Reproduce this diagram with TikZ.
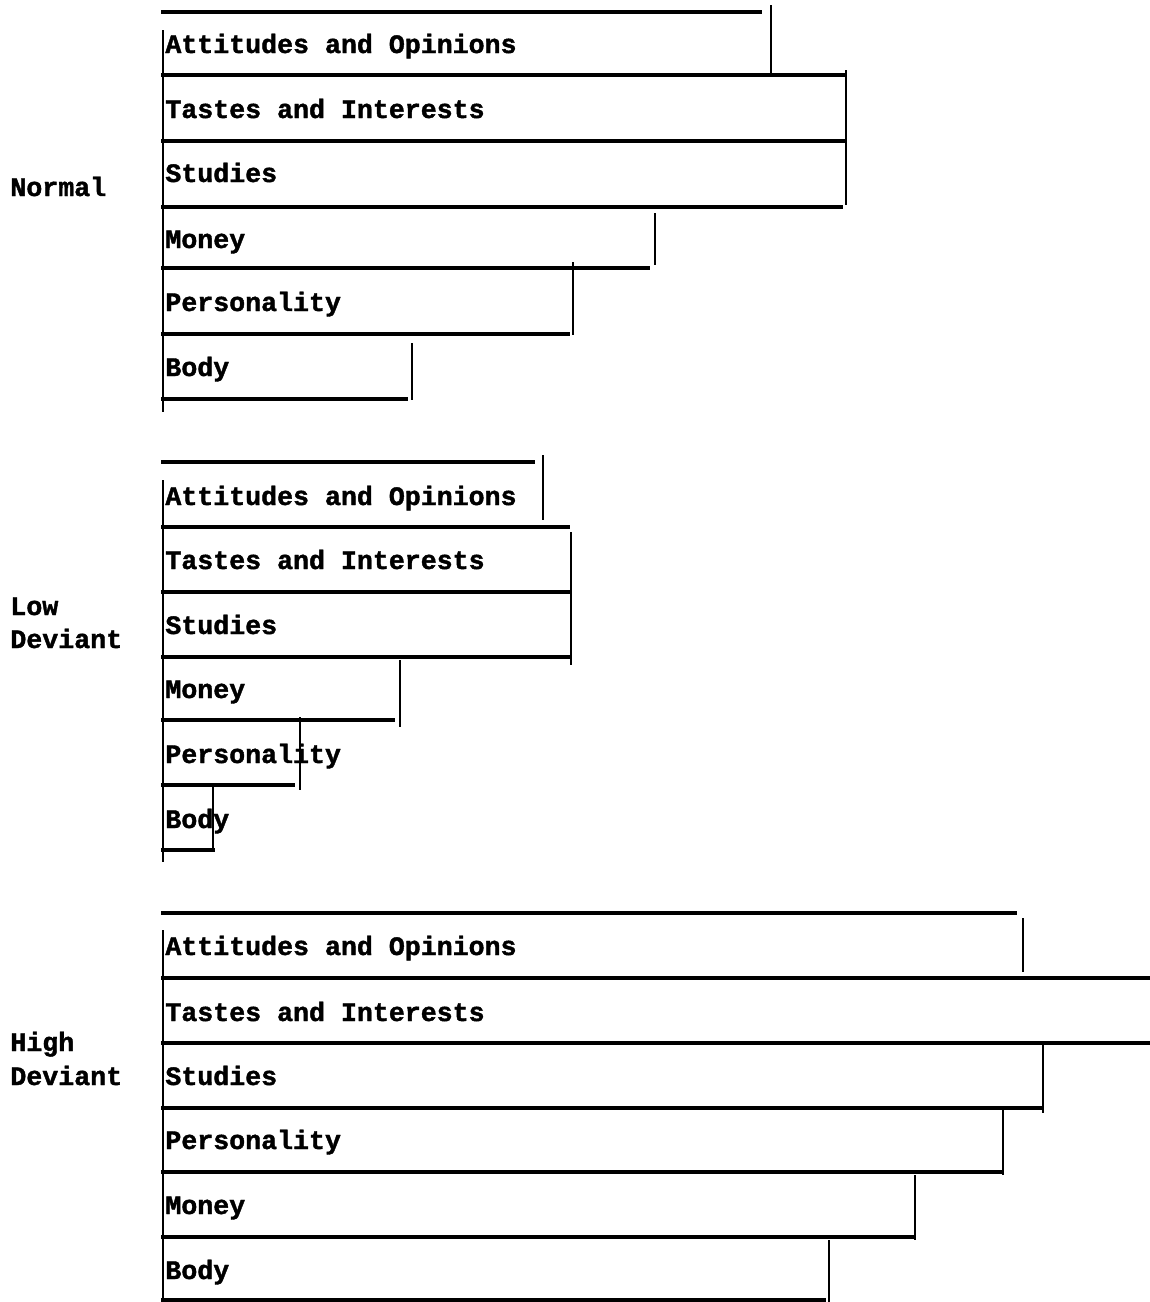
\documentclass[tikz,border=0pt]{standalone}
\usepackage{fontspec}
\newfontfamily\typefont[BoldFeatures={FakeBold=1.5}]{Liberation Mono}
\usetikzlibrary{positioning}

\begin{document}
\begin{tikzpicture}[x=0.5pt, y=-0.5pt,
    barline/.style={line width=1.8pt},
    barend/.style={line width=1.1pt},
    axisline/.style={line width=1.1pt},
    lbl/.style={font=\typefont\bfseries\fontsize{13.3}{15}\selectfont, inner sep=0pt, anchor=base west}]
  \useasboundingbox (0,0) rectangle (1150,1302);

  % --- Normal ---
  \node[lbl] (normal) at (10,196) {Normal};
  \draw[axisline] (163,30) -- (163,412);
  \draw[barline] (161,12) -- (762,12);
  \draw[barend] (771,5) -- (771,75);
  \node[lbl] (n-att) at (165,53) {Attitudes and Opinions};
  \draw[barline] (161,75) -- (845,75);
  \draw[barend] (846,70) -- (846,205);
  \node[lbl] (n-tas) at (165,118) {Tastes and Interests};
  \draw[barline] (161,141) -- (845,141);
  \node[lbl] (n-stu) at (165,182) {Studies};
  \draw[barline] (161,207) -- (843,207);
  \draw[barend] (655,213) -- (655,265);
  \node[lbl] (n-mon) at (165,248) {Money};
  \draw[barline] (161,268) -- (650,268);
  \draw[barend] (573,262) -- (573,335);
  \node[lbl] (n-per) at (165,311) {Personality};
  \draw[barline] (161,334) -- (570,334);
  \draw[barend] (412,343) -- (412,400);
  \node[lbl] (n-bod) at (165,376) {Body};
  \draw[barline] (161,399) -- (408,399);

  % --- Low Deviant ---
  \node[lbl] (low-a) at (10,615) {Low};
  \node[lbl] (low-b) at (10,648) {Deviant};
  \draw[axisline] (163,480) -- (163,862);
  \draw[barline] (161,462) -- (535,462);
  \draw[barend] (543,455) -- (543,520);
  \node[lbl] (l-att) at (165,505) {Attitudes and Opinions};
  \draw[barline] (161,527) -- (570,527);
  \draw[barend] (571,532) -- (571,665);
  \node[lbl] (l-tas) at (165,569) {Tastes and Interests};
  \draw[barline] (161,592) -- (570,592);
  \node[lbl] (l-stu) at (165,634) {Studies};
  \draw[barline] (161,657) -- (570,657);
  \draw[barend] (400,660) -- (400,727);
  \node[lbl] (l-mon) at (165,698) {Money};
  \draw[barline] (161,720) -- (395,720);
  \draw[barend] (300,717) -- (300,790);
  \node[lbl] (l-per) at (165,763) {Personality};
  \draw[barline] (161,785) -- (295,785);
  \draw[barend] (213,787) -- (213,852);
  \node[lbl] (l-bod) at (165,828) {Body};
  \draw[barline] (161,850) -- (215,850);

  % --- High Deviant ---
  \node[lbl] (high-a) at (10,1051) {High};
  \node[lbl] (high-b) at (10,1085) {Deviant};
  \draw[axisline] (163,930) -- (163,1302);
  \draw[barline] (161,913) -- (1017,913);
  \draw[barend] (1023,918) -- (1023,972);
  \node[lbl] (h-att) at (165,955) {Attitudes and Opinions};
  \draw[barline] (161,978) -- (1150,978);
  \node[lbl] (h-tas) at (165,1021) {Tastes and Interests};
  \draw[barline] (161,1043) -- (1150,1043);
  \draw[barend] (1043,1045) -- (1043,1113);
  \node[lbl] (h-stu) at (165,1085) {Studies};
  \draw[barline] (161,1108) -- (1043,1108);
  \draw[barend] (1003,1110) -- (1003,1175);
  \node[lbl] (h-per) at (165,1149) {Personality};
  \draw[barline] (161,1172) -- (1003,1172);
  \draw[barend] (915,1175) -- (915,1240);
  \node[lbl] (h-mon) at (165,1214) {Money};
  \draw[barline] (161,1237) -- (915,1237);
  \draw[barend] (829,1240) -- (829,1302);
  \node[lbl] (h-bod) at (165,1279) {Body};
  \draw[barline] (161,1300) -- (826,1300);
\end{tikzpicture}
\end{document}
